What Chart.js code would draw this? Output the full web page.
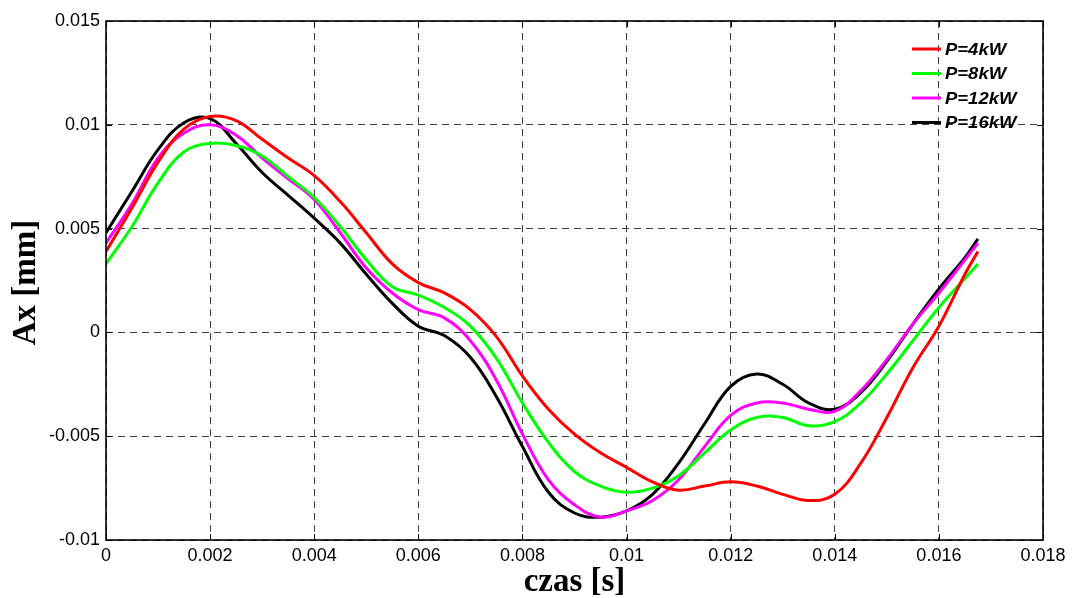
<!DOCTYPE html>
<html>
<head>
<meta charset="utf-8">
<script src="https://cdn.jsdelivr.net/npm/chart.js@4/dist/chart.umd.min.js"></script>
<style>
html,body{margin:0;padding:0;background:#fff;}
canvas{display:block;}
</style>
</head>
<body>
<canvas id="c" width="1072" height="598"></canvas>
<script>
const times = [0,0.0005,0.001,0.0015,0.002,0.0025,0.003,0.0035,0.004,0.0045,0.005,0.0055,0.006,0.0065,0.007,0.0075,0.008,0.0085,0.009,0.0095,0.01,0.0105,0.011,0.0115,0.012,0.0125,0.013,0.0135,0.014,0.0145,0.015,0.0155,0.016,0.0165,0.01675];
const seriesLabels = ['P=4kW','P=8kW','P=12kW','P=16kW'];
const p4 = [0.0039,0.0060,0.0082,0.0098,0.0104,0.0102,0.0093,0.0084,0.00755,0.0063,0.0048,0.0033,0.0024,0.0019,0.0011,-0.0002,-0.0021,-0.0037,-0.0049,-0.0058,-0.0065,-0.0072,-0.0076,-0.0074,-0.0072,-0.0074,-0.0078,-0.0081,-0.0078,-0.0063,-0.0041,-0.0017,0.0003,0.0028,0.0039];
const p8 = [0.0033,0.0051,0.0072,0.0087,0.0091,0.0090,0.0085,0.0075,0.0065,0.0051,0.0035,0.0022,0.0018,0.0012,0.0003,-0.00125,-0.0034,-0.0053,-0.0067,-0.0074,-0.0077,-0.0075,-0.0069,-0.0058,-0.0047,-0.0041,-0.0041,-0.0045,-0.0043,-0.0034,-0.0020,-0.0004,0.0012,0.0026,0.0033];
const p12 = [0.0043,0.0062,0.0084,0.0096,0.0100,0.0095,0.0084,0.0074,0.0064,0.0048,0.0031,0.0019,0.0011,0.0007,-0.0004,-0.0023,-0.0049,-0.0071,-0.0083,-0.0089,-0.0086,-0.0081,-0.0071,-0.0055,-0.0040,-0.0034,-0.0034,-0.0037,-0.0038,-0.0028,-0.0013,0.0004,0.0019,0.0035,0.0043];
const p16 = [0.0048,0.0068,0.0088,0.0101,0.0103,0.0091,0.0077,0.0066,0.0055,0.0043,0.0028,0.0014,0.0003,-0.00015,-0.0012,-0.0031,-0.0055,-0.0077,-0.0087,-0.0089,-0.0086,-0.0078,-0.0063,-0.0044,-0.0026,-0.0020,-0.0025,-0.0034,-0.0037,-0.0029,-0.0014,0.0004,0.0021,0.0036,0.0045];
const xTickLabels = ['0','0.002','0.004','0.006','0.008','0.01','0.012','0.014','0.016','0.018'];
const yTickLabels = ['-0.01','-0.005','0','0.005','0.01','0.015'];
const xTitle = 'czas [s]';
const yTitle = 'Ax [mm]';
const colors = ['#ff0000','#00ff00','#ff00ff','#000000'];

const seriesValues = [p4,p8,p12,p16];
const datasets = seriesValues.map((vals,k)=>({
  label: seriesLabels[k],
  data: times.map((t,i)=>({x:t,y:vals[i]})),
  borderColor: colors[k],
  backgroundColor: colors[k],
  borderWidth: 3,
  pointRadius: 0,
  tension: 0.4,
  fill: false
}));

const decor = {
  id:'decor',
  afterDraw(chart){
    const ctx = chart.ctx, a = chart.chartArea;
    const xs = chart.scales.x, ys = chart.scales.y;
    ctx.save();
    ctx.strokeStyle = '#000'; ctx.lineWidth = 1;
    ctx.beginPath();
    xs.ticks.forEach(t=>{
      const px = Math.round(xs.getPixelForValue(t.value))+0.5;
      ctx.moveTo(px,a.bottom); ctx.lineTo(px,a.bottom-6);
      ctx.moveTo(px,a.top); ctx.lineTo(px,a.top+6);
    });
    ys.ticks.forEach(t=>{
      const py = Math.round(ys.getPixelForValue(t.value))+0.5;
      ctx.moveTo(a.left,py); ctx.lineTo(a.left+6,py);
      ctx.moveTo(a.right,py); ctx.lineTo(a.right-6,py);
    });
    ctx.stroke();
    ctx.lineWidth = 1.6;
    ctx.strokeRect(a.left, a.top, a.right-a.left, a.bottom-a.top);
    ctx.fillStyle = '#000';
    ctx.font = 'bold 33px "Liberation Serif", "Times New Roman", serif';
    ctx.textAlign = 'center'; ctx.textBaseline = 'alphabetic';
    ctx.fillText(xTitle, (a.left+a.right)/2, 591);
    ctx.save();
    ctx.translate(35, (a.top+a.bottom)/2+2);
    ctx.rotate(-Math.PI/2);
    ctx.fillText(yTitle, 0, 0);
    ctx.restore();
    ctx.font = 'bold italic 16.5px "Liberation Sans", Arial, sans-serif';
    ctx.textAlign = 'left'; ctx.textBaseline = 'middle';
    seriesLabels.forEach((lab,k)=>{
      const y = a.top + 28 + k*24.5;
      ctx.strokeStyle = colors[k]; ctx.lineWidth = 3;
      ctx.beginPath(); ctx.moveTo(a.right-131,y); ctx.lineTo(a.right-102,y); ctx.stroke();
      ctx.save();
      ctx.translate(a.right-98, y+1);
      ctx.scale(1.12,1);
      ctx.fillText(lab, 0, 0);
      ctx.restore();
    });
    ctx.restore();
  }
};

new Chart(document.getElementById('c'), {
  type:'line',
  data:{datasets},
  plugins:[decor],
  options:{
    responsive:false,
    animation:false,
    devicePixelRatio:1,
    layout:{padding:{top:21,right:29,left:0,bottom:0}},
    plugins:{legend:{display:false},tooltip:{enabled:false}},
    scales:{
      x:{
        type:'linear', min:0, max:0.018,
        afterFit(s){ s.height = 58; },
        ticks:{stepSize:0.002, autoSkip:false, maxRotation:0, padding:5, color:'#000',
          font:{family:'"Liberation Sans", Arial, sans-serif', size:18},
          callback:(v,i)=>xTickLabels[i]},
        grid:{color:'rgba(0,0,0,0.75)', lineWidth:1, drawTicks:false},
        border:{display:false, dash:[7,5]}
      },
      y:{
        type:'linear', min:-0.01, max:0.015,
        afterFit(s){ s.width = 106; },
        ticks:{stepSize:0.005, autoSkip:false, padding:6, color:'#000',
          font:{family:'"Liberation Sans", Arial, sans-serif', size:18},
          callback:(v,i)=>yTickLabels[i]},
        grid:{color:'rgba(0,0,0,0.75)', lineWidth:1, drawTicks:false},
        border:{display:false, dash:[7,5]}
      }
    }
  }
});
</script>
</body>
</html>
